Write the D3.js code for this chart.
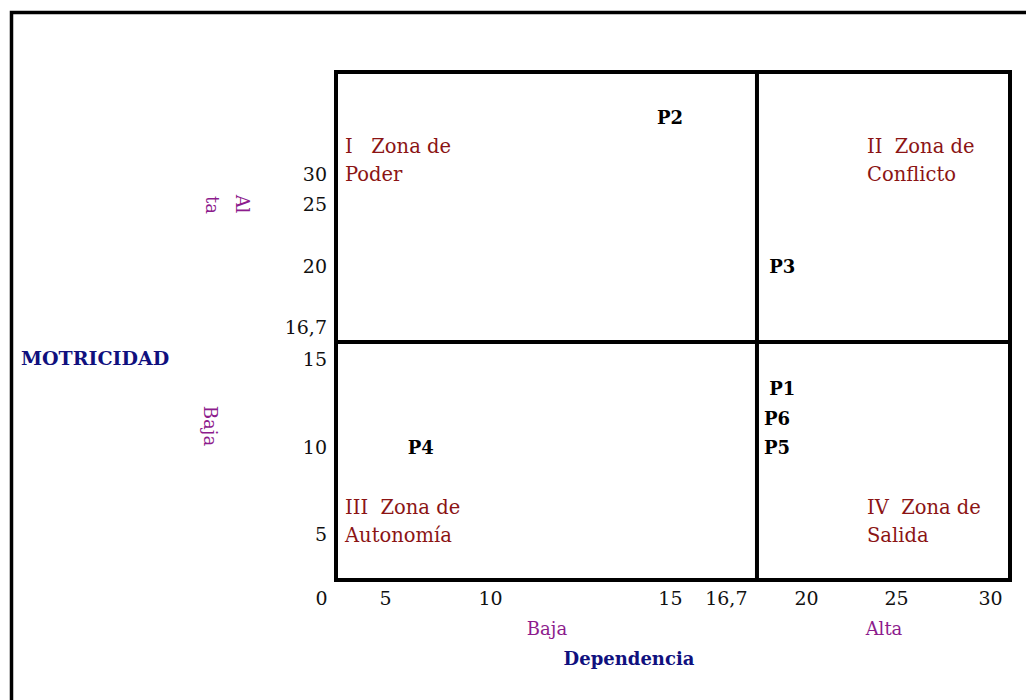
<!DOCTYPE html>
<html>
<head>
<meta charset="utf-8">
<script src="https://cdn.jsdelivr.net/npm/d3@7/dist/d3.min.js"></script>
<style>
  html, body { margin: 0; padding: 0; background: #fff; }
  svg { display: block; }
  text { font-family: "DejaVu Serif", "Liberation Serif", serif; }
</style>
</head>
<body>
<svg id="chart" width="1026" height="700"></svg>
<script>
// ---------- DATA ----------
const xTickValues = [0, 5, 10, 15, 16.7, 20, 25, 30];
const yTickValues = [5, 10, 15, 16.7, 20, 25, 30];
const threshold = 16.7;
const pointNames  = ["P1", "P2", "P3", "P4", "P5", "P6"];
const dependencia = [18.4, 15, 18.4, 6.7, 18.05, 18.05];
const motricidad  = [13.3, 39.5, 20, 10, 10, 11.6];
const zoneLabels = [["I   Zona de", "Poder"], ["II  Zona de", "Conflicto"],
                    ["III  Zona de", "Autonomía"], ["IV  Zona de", "Salida"]];
const xAxisTitle = "Dependencia";
const yAxisTitle = "MOTRICIDAD";
const lowLabel = "Baja";
const highLabel = "Alta";

// ---------- LAYOUT ----------
const svg = d3.select("#chart");
const box = { left: 336, right: 1010, top: 72, bottom: 580 };
const W = box.right - box.left, H = box.bottom - box.top;
// hand-laid (non-uniform) axes of the original diagram: stops as fractions of the box
const xStops = [-0.0223, 0.0727, 0.2285, 0.4955, 0.6246, 0.6973, 0.8309, 0.9703];
const yStops = [0.9094, 0.7382, 0.5650, 0.5315, 0.3819, 0.2598, 0.2008];

const x = d3.scaleLinear().domain(xTickValues).range(xStops.map(f => box.left + f * W));
const y = d3.scaleLinear().domain(yTickValues).range(yStops.map(f => box.top + f * H));
const fmt = v => String(v).replace(".", ",");

const navy = "#10107e", purple = "#8d1c8d", darkRed = "#8b1414";
const FONT = '"DejaVu Serif", serif';

// outer frame
svg.append("path")
  .attr("d", "M11.5,740 V12.5 H1060")
  .attr("fill", "none").attr("stroke", "#000").attr("stroke-width", 3.5);

// plot box
svg.append("rect")
  .attr("x", box.left).attr("y", box.top)
  .attr("width", W).attr("height", H)
  .attr("fill", "none").attr("stroke", "#000").attr("stroke-width", 4);

// quadrant dividers at threshold
svg.append("line")
  .attr("x1", x(threshold)).attr("x2", x(threshold))
  .attr("y1", box.top).attr("y2", box.bottom)
  .attr("stroke", "#000").attr("stroke-width", 4);
svg.append("line")
  .attr("x1", box.left).attr("x2", box.right)
  .attr("y1", y(threshold)).attr("y2", y(threshold))
  .attr("stroke", "#000").attr("stroke-width", 4);

// x axis
const gx = svg.append("g")
  .attr("transform", `translate(0,${box.bottom + 18})`)
  .call(d3.axisBottom(x).tickValues(xTickValues).tickSize(0).tickFormat(fmt));
gx.select(".domain").remove();
gx.selectAll("text")
  .attr("y", 0).attr("dy", "0.35em")
  .attr("font-size", 19).attr("fill", "#111")
  .style("font-family", FONT);
gx.selectAll(".tick").filter(d => d === threshold).select("text")
  .attr("text-anchor", "end").attr("x", -10);

// y axis
const gy = svg.append("g")
  .attr("transform", `translate(${box.left - 9},0)`)
  .call(d3.axisLeft(y).tickValues(yTickValues).tickSize(0).tickFormat(fmt));
gy.select(".domain").remove();
gy.selectAll("text")
  .attr("x", 0).attr("dy", "0.35em")
  .attr("font-size", 19).attr("fill", "#111")
  .style("font-family", FONT);
gy.selectAll(".tick").filter(d => d === threshold).select("text")
  .attr("y", -15);

// zone labels
const zonePos = [
  { x: box.left + 9,  y: box.top + 74 },
  { x: box.left + 531, y: box.top + 74 },
  { x: box.left + 9,  y: box.top + 435 },
  { x: box.left + 531, y: box.top + 435 }
];
zoneLabels.forEach((lines, i) => {
  const t = svg.append("text")
    .attr("x", zonePos[i].x).attr("y", zonePos[i].y)
    .attr("fill", darkRed).attr("font-size", 19.5)
    .attr("dominant-baseline", "central")
    .style("white-space", "pre");
  lines.forEach((ln, j) => {
    t.append("tspan").attr("x", zonePos[i].x).attr("dy", j === 0 ? 0 : 28).text(ln);
  });
});

// points (labels)
svg.append("g").selectAll("text")
  .data(pointNames)
  .join("text")
  .attr("x", (d, i) => x(dependencia[i]))
  .attr("y", (d, i) => y(motricidad[i]))
  .attr("text-anchor", "middle")
  .attr("dominant-baseline", "central")
  .attr("font-size", 18).attr("font-weight", "bold").attr("fill", "#000")
  .text(d => d);

// axis titles
svg.append("text")
  .attr("x", 21).attr("y", 358)
  .attr("dominant-baseline", "central")
  .attr("font-size", 19).attr("font-weight", "bold").attr("fill", navy)
  .text(yAxisTitle);

svg.append("text")
  .attr("x", 629).attr("y", 658)
  .attr("text-anchor", "middle").attr("dominant-baseline", "central")
  .attr("font-size", 18).attr("font-weight", "bold").attr("fill", navy)
  .text(xAxisTitle);

// low/high labels on x
svg.append("text")
  .attr("x", 547).attr("y", 628)
  .attr("text-anchor", "middle").attr("dominant-baseline", "central")
  .attr("font-size", 18).attr("fill", purple).text(lowLabel);
svg.append("text")
  .attr("x", 884).attr("y", 628)
  .attr("text-anchor", "middle").attr("dominant-baseline", "central")
  .attr("font-size", 18).attr("fill", purple).text(highLabel);

// rotated low/high labels on y ("Alta" is wrapped as "Al" / "ta")
const vLabels = [
  { t: highLabel.slice(0, 2), x: 242, y: 204 },
  { t: highLabel.slice(2),    x: 212, y: 205 },
  { t: lowLabel,              x: 210, y: 426 }
];
vLabels.forEach(d => {
  svg.append("text")
    .attr("transform", `translate(${d.x},${d.y}) rotate(90)`)
    .attr("text-anchor", "middle").attr("dominant-baseline", "central")
    .attr("font-size", 18).attr("fill", purple)
    .text(d.t);
});
</script>
</body>
</html>
